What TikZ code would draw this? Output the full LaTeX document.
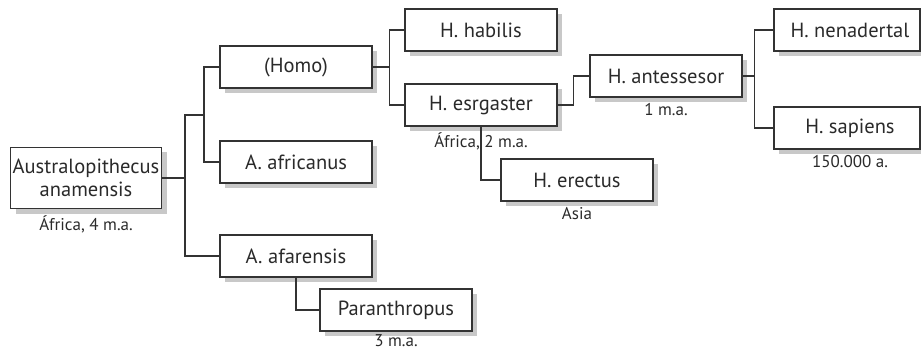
\documentclass[tikz,border=0pt]{standalone}
\usepackage{fontspec}
\setmainfont{PT Sans}
\usetikzlibrary{calc}
\definecolor{Ink}{HTML}{333333}
\definecolor{BoxShadow}{HTML}{C8C8C8}
\definecolor{Body}{HTML}{2A2A2A}
\newcommand{\taxon}[5][]{%
  \node[taxonbox,draw=none,fill=BoxShadow,#1] at ($(#3,#4)+(5,5)$) {};
  \node[taxonbox,#1] (#2) at (#3,#4) {#5};
}
\newcommand{\taxondate}[3][5pt]{%
  \node[anchor=north,yshift=-#1,inner sep=1pt,
        font=\fontsize{17}{19}\selectfont,text=Body] (#2-date) at (#2.south) {#3};
}

\begin{document}
\begin{tikzpicture}[x=1pt,y=-1pt,
    taxonbox/.style={draw=Ink,line width=1.2pt,fill=white,
      minimum width=152pt,minimum height=42pt,inner sep=2pt,align=center,
      font=\fontsize{20.5}{23}\selectfont,text=Body},
    link/.style={draw=Ink,line width=1.2pt}]
      \useasboundingbox (0,0) rectangle (921,350);

      \taxon[minimum width=151pt,minimum height=61pt]{aus}{86}{178}{Australopithecus\\anamensis}
      \taxon{homo}{296}{67}{(Homo)}
      \taxon{afr}{296}{162}{A. africanus}
      \taxon{afa}{296}{256}{A. afarensis}
      \taxon{par}{396}{310}{Paranthropus}
      \taxon{hab}{481}{30}{H. habilis}
      \taxon{esr}{481}{105}{H. esrgaster}
      \taxon{ere}{577}{180}{H. erectus}
      \taxon{ant}{666}{76}{H. antessesor}
      \taxon[minimum width=146pt]{nen}{847}{30}{\hspace*{6pt}H. nenadertal}
      \taxon[minimum width=146pt]{sap}{847}{128}{\hspace*{6pt}H. sapiens}

      \taxondate{aus}{África, 4 m.a.}
      \taxondate{esr}{África, 2 m.a.}
      \taxondate{ere}{Asia}
      \taxondate{ant}{1 m.a.}
      \taxondate{sap}{\hspace*{6pt}150.000 a.}
      \taxondate[2pt]{par}{3 m.a.}

      % branching points
      \coordinate (j1) at (185,115);
      \coordinate (j2) at (204,115);
      \coordinate (j3) at ($(homo.east)+(17,0)$);
      \coordinate (j4) at ($(ant.east)+(12,0)$);

      \draw[link] (aus.east) -- (aus.east -| j1);
      \draw[link] (j2) -- (j1) |- (afa.west);
      \draw[link] (homo.west) -| (j2) |- (afr.west);
      \draw[link] (afa.south) |- (par.west);
      \draw[link] (homo.east) -- (j3);
      \draw[link] (hab.west) -| (j3) |- (esr.west);
      \draw[link] (esr.south) |- (ere.west);
      \draw[link] (esr.east) -- ++(16,0) |- (ant.west);
      \draw[link] (ant.east) -- (j4);
      \draw[link] (nen.west) -| (j4) |- (sap.west);
    \end{tikzpicture}
\end{document}
